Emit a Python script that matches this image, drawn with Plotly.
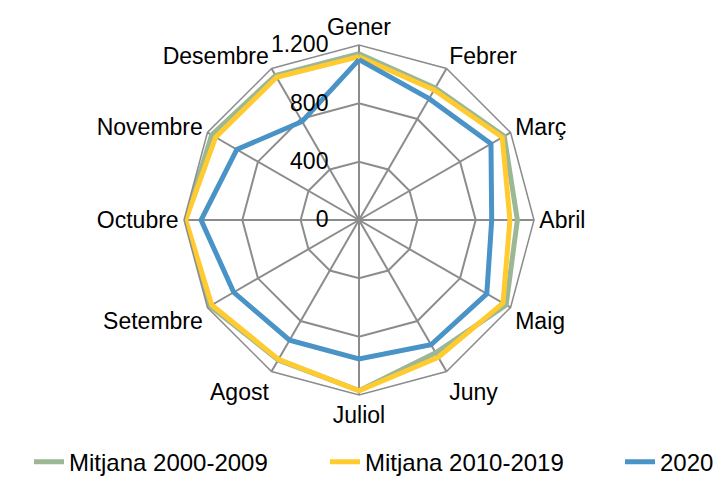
import plotly.graph_objects as go

# Monthly categories (clockwise from the top)
months = ["Gener", "Febrer", "Març", "Abril", "Maig", "Juny",
          "Juliol", "Agost", "Setembre", "Octubre", "Novembre", "Desembre"]

# Monthly values for each series
mitjana_2000_2009 = [1140, 1045, 1150, 1086, 1165, 1052, 1170, 1108, 1180, 1192, 1166, 1145]
mitjana_2010_2019 = [1120, 1030, 1134, 1035, 1140, 1087, 1172, 1104, 1166, 1188, 1135, 1130]
any_2020 = [1100, 961, 1045, 910, 1012, 988, 953, 952, 992, 1083, 967, 780]

radial_ticks = [0, 400, 800, 1200]
radial_ticktext = ["0", "400", "800", "1.200"]

series = [
    ("Mitjana 2000-2009", mitjana_2000_2009, "#9BB796", "legend"),
    ("Mitjana 2010-2019", mitjana_2010_2019, "#FFCB2F", "legend2"),
    ("2020", any_2020, "#4A93C6", "legend3"),
]

fig = go.Figure()
for name, vals, color, leg in series:
    fig.add_trace(go.Scatterpolar(
        r=vals + vals[:1],
        theta=months + months[:1],
        mode="lines",
        name=name,
        legend=leg,
        showlegend=True,
        line=dict(color=color, width=5),
    ))

grid = "#8C8C8C"
W, H = 716, 477


def legend_at(px):
    # one-entry legend whose swatch starts near pixel column px
    return dict(orientation="h", x=(px - 5) / W, xanchor="left",
                y=-0.016, yanchor="bottom", font=dict(size=24),
                bgcolor="rgba(0,0,0,0)", visible=True)


fig.update_layout(
    width=W, height=H,
    showlegend=True,
    margin=dict(l=0, r=0, t=0, b=0, autoexpand=False),
    paper_bgcolor="white",
    font=dict(family="Liberation Sans, Arial, sans-serif", size=23, color="black"),
    polar=dict(
        domain=dict(x=[(359 - 175) / W, (359 + 175) / W],
                    y=[(H - 395) / H, (H - 45) / H]),
        bgcolor="white",
        gridshape="linear",
        angularaxis=dict(
            direction="clockwise", rotation=90,
            showline=True, linecolor=grid, linewidth=1.5,
            showgrid=True, gridcolor=grid, gridwidth=1.5,
            ticks="", tickfont=dict(size=23),
        ),
        radialaxis=dict(
            range=[0, 1200], angle=90, tickangle=90,
            tickvals=radial_ticks, ticktext=radial_ticktext,
            showline=False,
            ticks="outside", ticklen=22, tickcolor="rgba(0,0,0,0)",
            showgrid=True, gridcolor=grid, gridwidth=1.5,
            side="counterclockwise",
            tickfont=dict(size=23),
        ),
    ),
    legend=legend_at(34),
    legend2=legend_at(330),
    legend3=legend_at(625),
)

fig.write_html("out.html")
